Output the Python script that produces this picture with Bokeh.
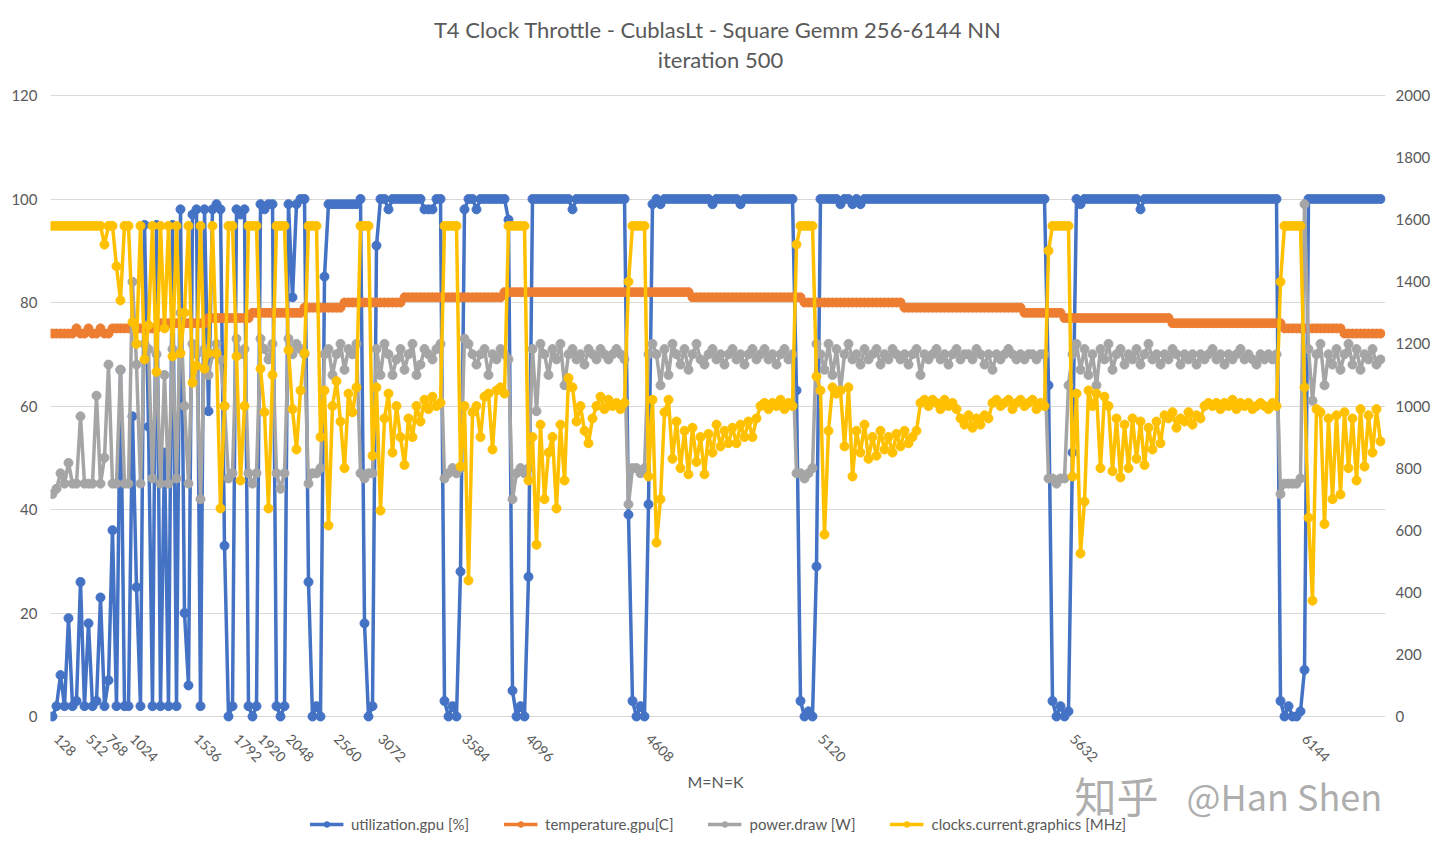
import math
from bokeh.plotting import figure
from bokeh.models import (Range1d, LinearAxis, FixedTicker, Legend, LegendItem,
                          Label, ColumnDataSource)
from bokeh.embed import file_html
from bokeh.resources import INLINE

# ---------------- data (one sample per row of the logged table) ----------------
tick_index = [1, 9, 14, 20, 36, 46, 52, 59, 71, 82, 103, 119, 149, 192, 255, 313]
tick_labels = ["128", "512", "768", "1024", "1536", "1792", "1920", "2048",
               "2560", "3072", "3584", "4096", "4608", "5120", "5632", "6144"]

util_gpu = [
    0, 2, 8, 2, 19, 2, 3, 26, 2, 18,
    2, 3, 23, 2, 7, 36, 2, 67, 2, 2,
    58, 25, 2, 95, 56, 2, 95, 2, 51, 2,
    95, 2, 98, 20, 6, 97, 98, 2, 98, 59,
    98, 99, 98, 33, 0, 2, 98, 97, 98, 2,
    0, 2, 99, 98, 99, 99, 2, 0, 2, 99,
    81, 99, 100, 100, 26, 0, 2, 0, 85, 99,
    99, 99, 99, 99, 99, 99, 99, 100, 18, 0,
    2, 91, 100, 100, 98, 100, 100, 100, 100, 100,
    100, 100, 100, 98, 98, 98, 100, 100, 3, 0,
    2, 0, 28, 98, 100, 100, 98, 100, 100, 100,
    100, 100, 100, 100, 96, 5, 0, 2, 0, 27,
    100, 100, 100, 100, 100, 100, 100, 100, 100, 100,
    98, 100, 100, 100, 100, 100, 100, 100, 100, 100,
    100, 100, 100, 100, 39, 3, 0, 2, 0, 41,
    99, 100, 99, 100, 100, 100, 100, 100, 100, 100,
    100, 100, 100, 100, 100, 99, 100, 100, 100, 100,
    100, 100, 99, 100, 100, 100, 100, 100, 100, 100,
    100, 100, 100, 100, 100, 100, 63, 3, 0, 1,
    0, 29, 100, 100, 100, 100, 100, 99, 100, 100,
    99, 100, 99, 100, 100, 100, 100, 100, 100, 100,
    100, 100, 100, 100, 100, 100, 100, 100, 100, 100,
    100, 100, 100, 100, 100, 100, 100, 100, 100, 100,
    100, 100, 100, 100, 100, 100, 100, 100, 100, 100,
    100, 100, 100, 100, 100, 100, 100, 100, 100, 64,
    3, 0, 2, 0, 1, 51, 100, 99, 100, 100,
    100, 100, 100, 100, 100, 100, 100, 100, 100, 100,
    100, 100, 98, 100, 100, 100, 100, 100, 100, 100,
    100, 100, 100, 100, 100, 100, 100, 100, 100, 100,
    100, 100, 100, 100, 100, 100, 100, 100, 100, 100,
    100, 100, 100, 100, 100, 100, 100, 3, 0, 2,
    0, 0, 1, 9, 100, 100, 100, 100, 100, 100,
    100, 100, 100, 100, 100, 100, 100, 100, 100, 100,
    100, 100, 100,
]

temp_gpu = [
    74, 74, 74, 74, 74, 74, 75, 74, 74, 75,
    74, 74, 75, 74, 74, 75, 75, 75, 75, 75,
    75, 75, 75, 75, 75, 75, 75, 76, 76, 76,
    76, 76, 76, 76, 76, 76, 76, 76, 76, 77,
    77, 77, 77, 77, 77, 77, 77, 77, 77, 77,
    78, 78, 78, 78, 78, 78, 78, 78, 78, 78,
    78, 78, 78, 79, 79, 79, 79, 79, 79, 79,
    79, 79, 79, 80, 80, 80, 80, 80, 80, 80,
    80, 80, 80, 80, 80, 80, 80, 80, 81, 81,
    81, 81, 81, 81, 81, 81, 81, 81, 81, 81,
    81, 81, 81, 81, 81, 81, 81, 81, 81, 81,
    81, 81, 81, 82, 82, 82, 82, 82, 82, 82,
    82, 82, 82, 82, 82, 82, 82, 82, 82, 82,
    82, 82, 82, 82, 82, 82, 82, 82, 82, 82,
    82, 82, 82, 82, 82, 82, 82, 82, 82, 82,
    82, 82, 82, 82, 82, 82, 82, 82, 82, 82,
    81, 81, 81, 81, 81, 81, 81, 81, 81, 81,
    81, 81, 81, 81, 81, 81, 81, 81, 81, 81,
    81, 81, 81, 81, 81, 81, 81, 81, 80, 80,
    80, 80, 80, 80, 80, 80, 80, 80, 80, 80,
    80, 80, 80, 80, 80, 80, 80, 80, 80, 80,
    80, 80, 80, 79, 79, 79, 79, 79, 79, 79,
    79, 79, 79, 79, 79, 79, 79, 79, 79, 79,
    79, 79, 79, 79, 79, 79, 79, 79, 79, 79,
    79, 79, 79, 78, 78, 78, 78, 78, 78, 78,
    78, 78, 78, 77, 77, 77, 77, 77, 77, 77,
    77, 77, 77, 77, 77, 77, 77, 77, 77, 77,
    77, 77, 77, 77, 77, 77, 77, 77, 77, 77,
    76, 76, 76, 76, 76, 76, 76, 76, 76, 76,
    76, 76, 76, 76, 76, 76, 76, 76, 76, 76,
    76, 76, 76, 76, 76, 76, 76, 76, 75, 75,
    75, 75, 75, 75, 75, 75, 75, 75, 75, 75,
    75, 75, 75, 74, 74, 74, 74, 74, 74, 74,
    74, 74, 74,
]

power_draw = [
    43, 44, 47, 45, 49, 45, 45, 58, 45, 45,
    45, 62, 45, 50, 68, 45, 45, 67, 45, 45,
    84, 68, 45, 72, 71, 46, 70, 45, 66, 45,
    71, 46, 78, 60, 45, 72, 70, 42, 71, 66,
    70, 72, 69, 60, 46, 47, 73, 70, 71, 47,
    45, 47, 73, 71, 69, 72, 47, 44, 47, 73,
    70, 72, 71, 70, 45, 47, 47, 48, 70, 71,
    66, 70, 72, 67, 71, 70, 72, 47, 46, 47,
    47, 71, 66, 72, 70, 66, 69, 71, 67, 70,
    72, 66, 68, 71, 70, 69, 71, 72, 46, 47,
    48, 47, 48, 73, 72, 70, 68, 70, 71, 66,
    70, 69, 71, 70, 69, 42, 47, 48, 47, 48,
    71, 59, 72, 70, 66, 71, 69, 72, 64, 70,
    71, 69, 70, 68, 71, 70, 69, 71, 70, 69,
    70, 71, 70, 69, 41, 48, 48, 47, 48, 70,
    72, 70, 64, 71, 66, 72, 70, 68, 71, 67,
    70, 72, 69, 68, 70, 71, 69, 70, 68, 70,
    71, 69, 70, 68, 70, 71, 69, 70, 71, 69,
    70, 68, 70, 71, 69, 70, 47, 47, 46, 47,
    48, 72, 70, 67, 72, 66, 71, 63, 70, 72,
    69, 70, 68, 71, 69, 70, 71, 68, 70, 69,
    71, 70, 69, 70, 68, 70, 71, 66, 70, 69,
    70, 71, 69, 70, 68, 70, 71, 69, 70, 70,
    69, 71, 70, 68, 70, 67, 70, 69, 70, 71,
    70, 69, 70, 69, 70, 70, 69, 70, 70, 46,
    46, 45, 46, 46, 64, 70, 72, 67, 71, 66,
    70, 64, 71, 69, 72, 67, 70, 71, 68, 70,
    69, 71, 68, 70, 72, 69, 70, 68, 70, 69,
    71, 70, 68, 70, 69, 70, 68, 70, 69, 70,
    71, 69, 70, 68, 70, 69, 70, 71, 69, 70,
    69, 68, 70, 69, 70, 69, 70, 43, 45, 45,
    45, 45, 46, 99, 71, 61, 70, 72, 64, 70,
    68, 71, 67, 70, 72, 68, 71, 67, 70, 69,
    71, 68, 69,
]

clock_mhz = [
    1580, 1580, 1580, 1580, 1580, 1580, 1580, 1580, 1580, 1580,
    1580, 1580, 1580, 1520, 1580, 1580, 1450, 1340, 1580, 1580,
    1270, 1200, 1580, 1150, 1260, 1580, 1110, 1580, 1250, 1580,
    1160, 1580, 1170, 1300, 1580, 1075, 1130, 1580, 1120, 1170,
    1580, 1170, 670, 1000, 1580, 1580, 1160, 760, 1000, 1580,
    1580, 1580, 1120, 980, 670, 1100, 1580, 1580, 1580, 1180,
    990, 860, 1050, 1170, 1580, 1580, 1580, 900, 1050, 615,
    1000, 1080, 950, 800, 1040, 980, 1060, 1580, 1580, 1580,
    840, 1060, 663, 960, 1040, 850, 1000, 900, 810, 960,
    900, 1000, 950, 1020, 990, 1030, 1000, 1010, 1580, 1580,
    1580, 1580, 805, 1000, 438, 980, 1000, 900, 1030, 1040,
    860, 1050, 1060, 1040, 1580, 1580, 1580, 1580, 1580, 760,
    900, 553, 940, 700, 850, 900, 670, 940, 760, 1090,
    1060, 950, 1000, 920, 880, 960, 1000, 1030, 990, 1020,
    1000, 1010, 990, 1010, 1400, 1580, 1580, 1580, 1580, 773,
    1020, 560, 700, 980, 1020, 830, 950, 800, 920, 780,
    930, 820, 900, 780, 910, 850, 940, 870, 920, 880,
    930, 880, 940, 900, 950, 900, 960, 1000, 1010, 990,
    1010, 1000, 1020, 990, 1010, 1000, 1520, 1580, 1580, 1580,
    1580, 1095, 1050, 586, 920, 1060, 1040, 1050, 870, 1060,
    773, 920, 850, 940, 830, 900, 840, 920, 860, 900,
    850, 910, 870, 920, 880, 900, 920, 1010, 1020, 1000,
    1020, 1010, 990, 1020, 1000, 1010, 990, 960, 940, 970,
    930, 960, 940, 970, 960, 1010, 1020, 1000, 1010, 1020,
    990, 1010, 1020, 1000, 1010, 1020, 990, 1010, 1000, 1500,
    1580, 1580, 1580, 1580, 1580, 773, 1040, 525, 692, 1050,
    1000, 1040, 800, 1030, 1000, 790, 960, 770, 940, 800,
    960, 830, 950, 810, 930, 860, 950, 880, 970, 960,
    980, 930, 960, 950, 980, 940, 970, 960, 1000, 1010,
    1000, 1010, 990, 1010, 1000, 1020, 990, 1010, 1000, 1010,
    990, 1000, 1010, 1000, 990, 1010, 1000, 1400, 1580, 1580,
    1580, 1580, 1580, 1060, 640, 373, 990, 980, 620, 960,
    700, 970, 715, 980, 800, 960, 760, 990, 805, 970,
    850, 990, 886,
]

left_ticks = [0, 20, 40, 60, 80, 100, 120]
right_ticks = [0, 200, 400, 600, 800, 1000, 1200, 1400, 1600, 1800, 2000]
series_names = ["utilization.gpu [%]", "temperature.gpu[C]", "power.draw [W]",
                "clocks.current.graphics [MHz]"]
series_colors = ["#4472C4", "#ED7D31", "#A5A5A5", "#FFC000"]
title_lines = ["T4  Clock Throttle - CublasLt - Square Gemm 256-6144 NN",
               "iteration 500"]

# ---------------- figure ----------------
FONT = "Lato"
TXT = "#595959"
sample = list(range(len(util_gpu)))
src = ColumnDataSource(dict(x=sample, util=util_gpu, temp=temp_gpu,
                            power=power_draw, clock=clock_mhz))

# plot area: x 50..1385 px, 0..120 spans y 716..95 px; the frame is extended
# up to the top and down to the bottom of the canvas to hold titles/legend.
PX_L = 120 / 621
PX_R = 2000 / 621
LEFT_RANGE = Range1d(-121 * PX_L, 120 + 95 * PX_L)
RIGHT_RANGE = Range1d(-121 * PX_R, 2000 + 95 * PX_R)

p = figure(frame_width=1335, frame_height=837, output_backend="svg",
           toolbar_location=None,
           x_range=Range1d(-0.5, 333.25), y_range=LEFT_RANGE,
           min_border_left=50, min_border_right=39, min_border_top=0,
           min_border_bottom=0)
p.extra_y_ranges = {"clk": RIGHT_RANGE}
p.outline_line_color = None
p.background_fill_color = "white"
p.border_fill_color = "white"

p.xgrid.visible = False
p.ygrid.grid_line_color = "#D9D9D9"
p.ygrid.grid_line_width = 1

xa = p.xaxis[0]
xa.fixed_location = 0
xa.ticker = FixedTicker(ticks=tick_index)
xa.major_label_overrides = {t: l for t, l in zip(tick_index, tick_labels)}
xa.major_label_orientation = -math.pi / 4
xa.axis_line_color = None
xa.major_tick_line_color = None
xa.minor_tick_line_color = None
xa.major_label_text_font = FONT
xa.major_label_text_font_size = "14px"
xa.major_label_text_color = TXT
xa.major_label_standoff = 14

ya = p.yaxis[0]
ya.ticker = FixedTicker(ticks=left_ticks)
ya.axis_line_color = None
ya.major_tick_line_color = None
ya.minor_tick_line_color = None
ya.major_tick_out = 0
ya.major_tick_in = 0
ya.major_label_text_font = FONT
ya.major_label_text_font_size = "15px"
ya.major_label_text_color = TXT
ya.major_label_standoff = 13

ra = LinearAxis(y_range_name="clk", ticker=FixedTicker(ticks=right_ticks))
ra.axis_line_color = None
ra.major_tick_line_color = None
ra.minor_tick_line_color = None
ra.major_tick_out = 0
ra.major_tick_in = 0
ra.major_label_text_font = FONT
ra.major_label_text_font_size = "15px"
ra.major_label_text_color = TXT
ra.major_label_standoff = 10
p.add_layout(ra, "right")

cols = ["util", "temp", "power", "clock"]
items = []
for name, col, color in zip(series_names, cols, series_colors):
    kw = {"y_range_name": "clk"} if col == "clock" else {}
    rl = p.line("x", col, source=src, line_color=color, line_width=3.5,
                line_join="round", **kw)
    rm = p.scatter("x", col, source=src, size=9, fill_color=color,
                   line_color=color, **kw)
    items.append(LegendItem(label=name, renderers=[rl, rm]))

legend = Legend(items=items, orientation="horizontal", location="bottom_center",
                label_text_font=FONT, label_text_font_size="15px",
                label_text_color=TXT, glyph_width=34, glyph_height=14,
                spacing=34, label_standoff=8, border_line_color=None,
                background_fill_alpha=0, padding=0, margin=4)
p.add_layout(legend, "center")

# chart titles (two centred lines above the plot area)
p.add_layout(Label(x=167, y=120 + 66 * PX_L, text=title_lines[0],
                   text_align="center", text_baseline="middle", text_font=FONT,
                   text_font_size="22px", text_color=TXT))
p.add_layout(Label(x=167, y=120 + 36 * PX_L, text=title_lines[1],
                   text_align="center", text_baseline="middle", text_font=FONT,
                   text_font_size="22px", text_color=TXT))

# horizontal axis title
p.add_layout(Label(x=165.75, y=-65 * PX_L, text="M=N=K", text_align="center",
                   text_baseline="middle", text_font=FONT, text_font_size="16px",
                   text_color=TXT))

# watermark
p.add_layout(Label(x=255.5, y=-78 * PX_L, text="知乎", text_align="left",
                   text_baseline="middle", text_font="Noto Sans CJK SC",
                   text_font_size="42px", text_color="#a0a0a0", text_alpha=0.85))
p.add_layout(Label(x=283.5, y=-78 * PX_L, text="@Han Shen", text_align="left",
                   text_baseline="middle", text_font="Noto Sans CJK SC",
                   text_font_size="36px", text_color="#a0a0a0", text_alpha=0.85))

open("out.html", "w").write(file_html(p, INLINE))
